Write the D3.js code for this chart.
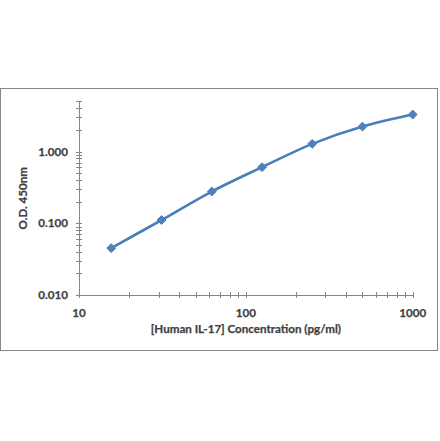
<!DOCTYPE html>
<html>
<head>
<meta charset="utf-8">
<script src="https://cdn.jsdelivr.net/npm/d3@7"></script>
<style>
  html, body { margin: 0; padding: 0; background: #fff; }
  svg { display: block; }
  text { stroke: #404040; stroke-width: 0.25px; }
</style>
</head>
<body>
<svg id="chart" width="440" height="441"></svg>
<script>
const concentrations = [15.6, 31.25, 62.5, 125, 250, 500, 1000];
const odValues = [0.045, 0.111, 0.277, 0.605, 1.28, 2.23, 3.28];
const xTickValues = [10, 100, 1000];
const yTickValues = [0.01, 0.1, 1];
const xTitle = "[Human IL-17] Concentration (pg/ml)";
const yTitle = "O.D. 450nm";

(function () {
const svg = d3.select("#chart");
const pLeft = 79, pRight = 412.7, pTop = 101.4, pBottom = 295;
const axisColor = "#868686";
const textColor = "#404040";
const font = "Lato, 'Liberation Sans', sans-serif";
const fs = 11.6;

// outer frame
svg.append("rect").attr("x", 0.5).attr("y", 88.5).attr("width", 437).attr("height", 262)
  .attr("fill", "#fff").attr("stroke", axisColor).attr("stroke-width", 1);

const x = d3.scaleLog().domain([10, 1000]).range([pLeft, pRight]);
const y = d3.scaleLog().domain([0.01, 5]).range([pBottom, pTop]);

// minor + major ticks
const xTicksAll = [];
for (let d = 10; d <= 1000; d *= 10) for (let k = 1; k <= 9; k++) { const v = d * k; if (v <= 1000) xTicksAll.push(v); }
const yTicksAll = [];
for (let d = 0.01; d <= 1.0001; d *= 10) for (let k = 1; k <= 9; k++) { const v = d * k; if (v <= 5.0001) yTicksAll.push(v); }

const g = svg.append("g");
g.selectAll(".xt").data(xTicksAll).join("line")
  .attr("x1", d => Math.round(x(d)) + 0.5).attr("x2", d => Math.round(x(d)) + 0.5)
  .attr("y1", pBottom - 3).attr("y2", pBottom + 3)
  .attr("stroke", axisColor).attr("stroke-width", 1);
g.selectAll(".yt").data(yTicksAll).join("line")
  .attr("y1", d => Math.round(y(d)) + 0.5).attr("y2", d => Math.round(y(d)) + 0.5)
  .attr("x1", pLeft - 3).attr("x2", pLeft + 3)
  .attr("stroke", axisColor).attr("stroke-width", 1);

// axis lines
g.append("line").attr("x1", pLeft).attr("x2", pRight + 0.5).attr("y1", pBottom + 0.5).attr("y2", pBottom + 0.5)
  .attr("stroke", axisColor).attr("stroke-width", 1);
g.append("line").attr("x1", pLeft + 0.5).attr("x2", pLeft + 0.5).attr("y1", pTop).attr("y2", pBottom)
  .attr("stroke", axisColor).attr("stroke-width", 1);

// tick labels
g.selectAll(".xl").data(xTickValues).join("text")
  .attr("x", d => x(d)).attr("y", pBottom + 22)
  .attr("text-anchor", "middle").attr("font-family", font).attr("font-weight", "bold")
  .attr("font-size", fs).attr("fill", textColor).text(d => d3.format("d")(d));
g.selectAll(".yl").data(yTickValues).join("text")
  .attr("x", 68).attr("y", d => y(d) + 4)
  .attr("text-anchor", "end").attr("font-family", font).attr("font-weight", "bold")
  .attr("font-size", fs).attr("fill", textColor).text(d => d3.format(".3f")(d));

// titles
svg.append("text").attr("x", (pLeft + pRight) / 2).attr("y", 333)
  .attr("text-anchor", "middle").attr("font-family", font).attr("font-weight", "bold")
  .attr("font-size", fs).attr("fill", textColor).text(xTitle);
svg.append("text").attr("transform", `translate(27,${(pTop + pBottom) / 2}) rotate(-90)`)
  .attr("text-anchor", "middle").attr("font-family", font).attr("font-weight", "bold")
  .attr("font-size", fs).attr("fill", textColor).text(yTitle);

// series
const pts = concentrations.map((c, i) => [c, odValues[i]]);
const line = d3.line().x(d => x(d[0])).y(d => y(d[1])).curve(d3.curveCatmullRom.alpha(0.5));
svg.append("path").attr("d", line(pts)).attr("fill", "none")
  .attr("stroke", "#4A7EBB").attr("stroke-width", 2.6).attr("stroke-linejoin", "round");

const diamond = d3.symbol().type(d3.symbolDiamond2).size(50);
svg.selectAll(".m").data(pts).join("path")
  .attr("transform", d => `translate(${x(d[0])},${y(d[1])})`)
  .attr("d", diamond).attr("fill", "#4F81BD").attr("stroke", "#4A7EBB").attr("stroke-width", 1);
})();
</script>
</body>
</html>
